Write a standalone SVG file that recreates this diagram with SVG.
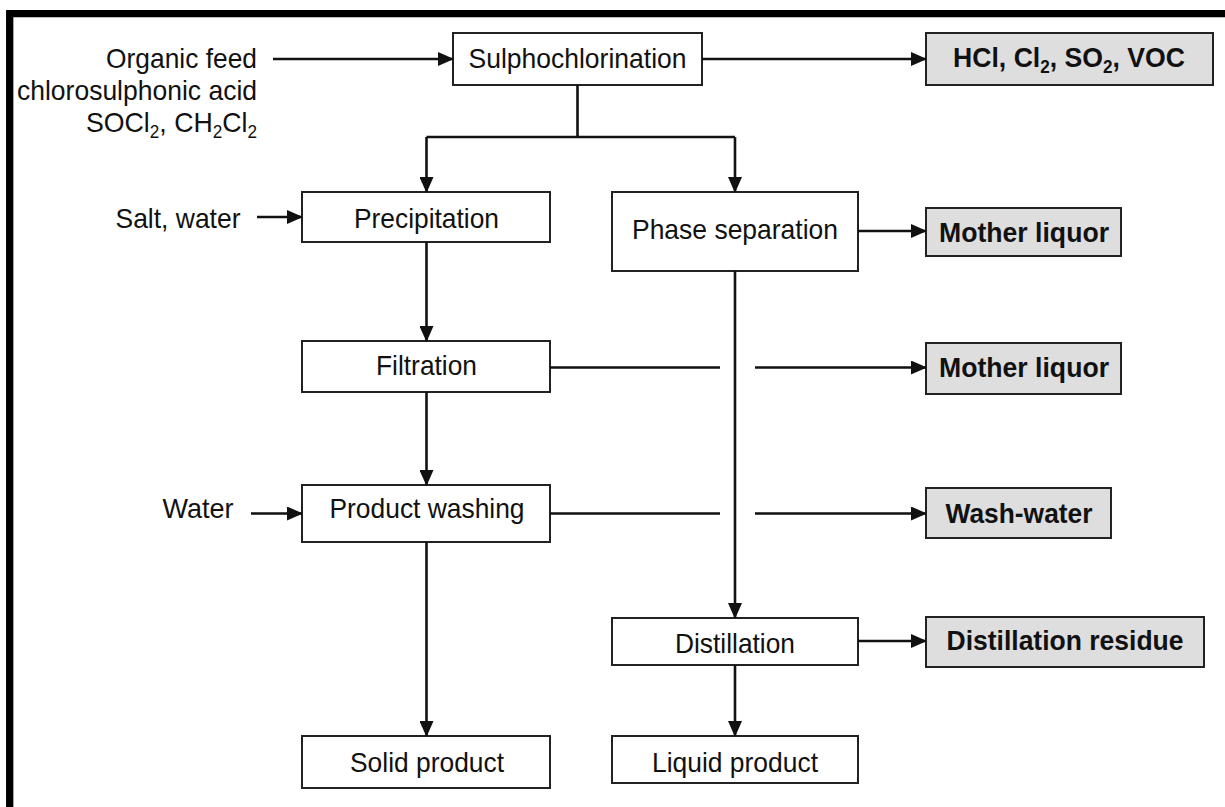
<svg xmlns="http://www.w3.org/2000/svg" width="1225" height="807" viewBox="0 0 1225 807">
  <style>
    text { font-family: "Liberation Sans", Arial, sans-serif; font-size: 28px; fill: #111; }
    .c { text-anchor: middle; }
    .r { text-anchor: end; }
    .b { font-weight: bold; }
    .sub { font-size: 18px; }
    .box { fill: #fff; stroke: #222; stroke-width: 2; }
    .out { fill: #dedede; stroke: #222; stroke-width: 2; }
    .flow { fill: none; stroke: #111; stroke-width: 2.6; }
  </style>
  <defs>
    <marker id="ah" markerUnits="userSpaceOnUse" markerWidth="16" markerHeight="14" viewBox="0 0 16 14" refX="15" refY="7" orient="auto">
      <path d="M0,0 L16,7 L0,14 Z" fill="#111"/>
    </marker>
  </defs>

  <rect x="0" y="0" width="1225" height="807" fill="#fff"/>
  <!-- frame (top and left edges) -->
  <path d="M9.7,807 V13.7 H1225" fill="none" stroke="#000" stroke-width="7.3"/>

  <!-- feed labels -->
  <g id="feed">
    <text class="r" x="257" y="68" textLength="151" lengthAdjust="spacingAndGlyphs">Organic feed</text>
    <text class="r" x="257" y="100" textLength="240" lengthAdjust="spacingAndGlyphs">chlorosulphonic acid</text>
    <text class="r" x="257" y="132" textLength="171" lengthAdjust="spacingAndGlyphs">SOCl<tspan class="sub" dy="6">2</tspan><tspan dy="-6">, CH</tspan><tspan class="sub" dy="6">2</tspan><tspan dy="-6">Cl</tspan><tspan class="sub" dy="6">2</tspan></text>
  </g>
  <g id="salt-water"><text class="r" x="240.5" y="228" textLength="125" lengthAdjust="spacingAndGlyphs">Salt, water</text></g>
  <g id="water"><text class="r" x="233.5" y="518" textLength="71" lengthAdjust="spacingAndGlyphs">Water</text></g>

  <!-- process steps -->
  <g id="sulphochlorination">
    <rect class="box" x="453" y="33" width="249" height="52"/>
    <text class="c" x="577.5" y="68" textLength="218" lengthAdjust="spacingAndGlyphs">Sulphochlorination</text>
  </g>
  <g id="precipitation">
    <rect class="box" x="302" y="192" width="248" height="50"/>
    <text class="c" x="426.5" y="228" textLength="145" lengthAdjust="spacingAndGlyphs">Precipitation</text>
  </g>
  <g id="phase-separation">
    <rect class="box" x="612" y="192" width="246" height="79"/>
    <text class="c" x="735" y="238.5" textLength="206" lengthAdjust="spacingAndGlyphs">Phase separation</text>
  </g>
  <g id="filtration">
    <rect class="box" x="302" y="341" width="248" height="51"/>
    <text class="c" x="426.5" y="375" textLength="101" lengthAdjust="spacingAndGlyphs">Filtration</text>
  </g>
  <g id="product-washing">
    <rect class="box" x="302" y="485" width="248" height="57"/>
    <text class="c" x="427" y="518" textLength="195" lengthAdjust="spacingAndGlyphs">Product washing</text>
  </g>
  <g id="distillation">
    <rect class="box" x="612" y="618" width="246" height="47"/>
    <text class="c" x="735" y="653" textLength="120" lengthAdjust="spacingAndGlyphs">Distillation</text>
  </g>
  <g id="solid-product">
    <rect class="box" x="302" y="736" width="248" height="52"/>
    <text class="c" x="427" y="772" textLength="154" lengthAdjust="spacingAndGlyphs">Solid product</text>
  </g>
  <g id="liquid-product">
    <rect class="box" x="612" y="736" width="246" height="47"/>
    <text class="c" x="735" y="772" textLength="166" lengthAdjust="spacingAndGlyphs">Liquid product</text>
  </g>

  <!-- emissions and residues -->
  <g id="off-gas">
    <rect class="out" x="926" y="33" width="287" height="52"/>
    <text class="c b" x="1069" y="67" textLength="232" lengthAdjust="spacingAndGlyphs">HCl, Cl<tspan class="sub" dy="6">2</tspan><tspan dy="-6">, SO</tspan><tspan class="sub" dy="6">2</tspan><tspan dy="-6">, VOC</tspan></text>
  </g>
  <g id="mother-liquor-1">
    <rect class="out" x="926" y="208" width="195" height="48"/>
    <text class="c b" x="1024" y="242" textLength="170" lengthAdjust="spacingAndGlyphs">Mother liquor</text>
  </g>
  <g id="mother-liquor-2">
    <rect class="out" x="926" y="343" width="195" height="51"/>
    <text class="c b" x="1024" y="377" textLength="170" lengthAdjust="spacingAndGlyphs">Mother liquor</text>
  </g>
  <g id="wash-water">
    <rect class="out" x="926" y="488" width="185" height="50"/>
    <text class="c b" x="1019" y="523" textLength="147" lengthAdjust="spacingAndGlyphs">Wash-water</text>
  </g>
  <g id="distillation-residue">
    <rect class="out" x="926" y="617" width="278" height="50"/>
    <text class="c b" x="1065" y="650" textLength="237" lengthAdjust="spacingAndGlyphs">Distillation residue</text>
  </g>

  <!-- connectors -->
  <g id="connectors">
    <path class="flow" d="M273,59 H453" marker-end="url(#ah)"/>
    <path class="flow" d="M702,59 H926" marker-end="url(#ah)"/>
    <path class="flow" d="M577.5,85 V137 M426.5,137 H735"/>
    <path class="flow" d="M426.5,137 V192" marker-end="url(#ah)"/>
    <path class="flow" d="M735,137 V192" marker-end="url(#ah)"/>
    <path class="flow" d="M257,217 H302" marker-end="url(#ah)"/>
    <path class="flow" d="M858,231 H926" marker-end="url(#ah)"/>
    <path class="flow" d="M426.5,242 V341" marker-end="url(#ah)"/>
    <path class="flow" d="M550,367.5 H720"/>
    <path class="flow" d="M755,367.5 H926" marker-end="url(#ah)"/>
    <path class="flow" d="M426.5,392 V485" marker-end="url(#ah)"/>
    <path class="flow" d="M251,513.5 H302" marker-end="url(#ah)"/>
    <path class="flow" d="M550,513.5 H720"/>
    <path class="flow" d="M755,513.5 H926" marker-end="url(#ah)"/>
    <path class="flow" d="M426.5,542 V736" marker-end="url(#ah)"/>
    <path class="flow" d="M735,271 V618" marker-end="url(#ah)"/>
    <path class="flow" d="M858,641 H926" marker-end="url(#ah)"/>
    <path class="flow" d="M735,665 V736" marker-end="url(#ah)"/>
  </g>
</svg>
